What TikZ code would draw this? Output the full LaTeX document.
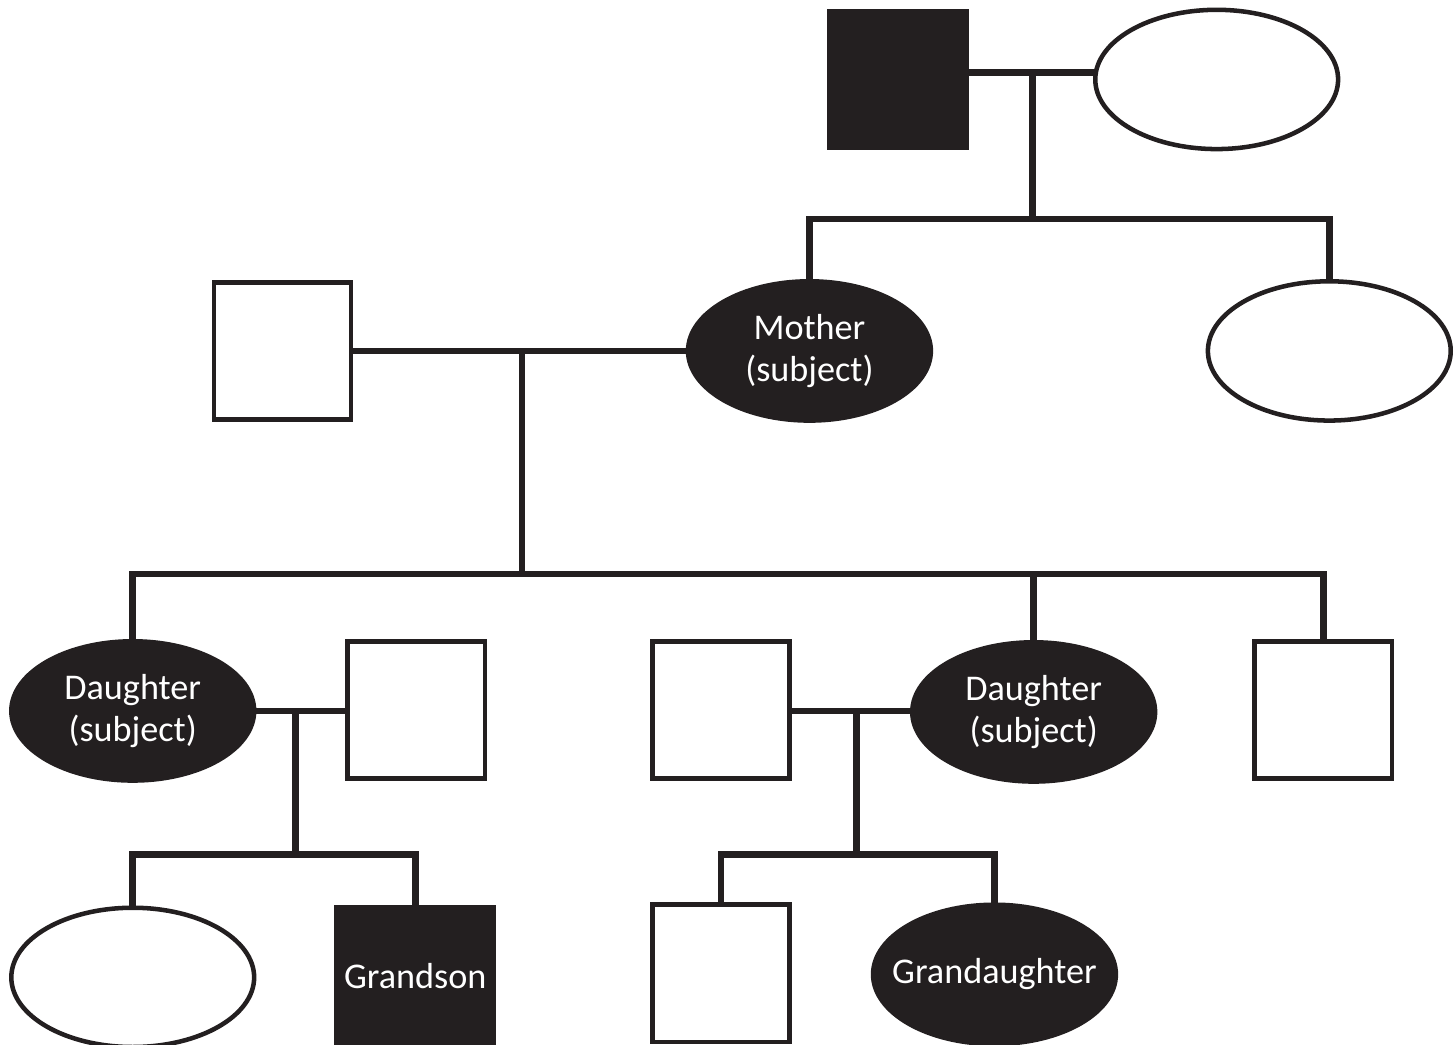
\documentclass[tikz,border=0pt]{standalone}
\usepackage{fontspec}
\setmainfont{Carlito}
\usepackage{tikz}
\usetikzlibrary{shapes.geometric}
\definecolor{ink}{HTML}{231F20}

\begin{document}
\begin{tikzpicture}[
			x=0.5pt, y=-0.5pt,
			every node/.style={font=\fontsize{18}{21}\selectfont, text=white, align=center, inner sep=0pt, outer sep=0pt},
			every label/.style={font=\fontsize{18}{21}\selectfont, text=white},
			male/.style={draw=ink, fill=white, line width=2.25pt, minimum width=68.25pt, minimum height=68.25pt},
			female/.style={ellipse, draw=ink, fill=white, line width=2.25pt, minimum width=120.75pt, minimum height=69.25pt},
			affected/.style={fill=ink},
			link/.style={draw=ink, line width=3.25pt}
			]
			\useasboundingbox (0,0) rectangle (1447,1039);
			
			% Grandparents
			\node[male, affected] (gfather) at (893,79) {};
			\node[female] (gmother) at (1210,79) {};
			
			% Second generation
			\node[female, affected] (mother) at (805,349) {Mother\\(subject)};
			\node[female] (aunt) at (1322,349) {};
			\node[male] (father) at (281,349) {};
			
			% Third generation
			\node[female, affected] (dau1) at (132,707) {Daughter\\(subject)};
			\node[male] (husb1) at (414,706) {};
			\node[male] (husb2) at (717,706) {};
			\node[female, affected] (dau2) at (1028,708) {Daughter\\(subject)};
			\node[male] (son) at (1316,706) {};
			
			% Fourth generation
			\node[female] (gdau1) at (132,972) {};
			\node[male, affected, minimum width=78.25pt] (gson1) at (413,971) {Grandson};
			\node[male] (gson2) at (717,968) {};
			\node[female, affected, label={center:Grandaughter}] (gdau2) at (989,969) {};
			
			% Marriage and sibship points
			\coordinate (mar1) at (1027,72);
			\coordinate (sib1) at (1027,218);
			\coordinate (mar2) at (519,349);
			\coordinate (sib2) at (519,571);
			\coordinate (mar3) at (294,707);
			\coordinate (sib3) at (294,850);
			\coordinate (mar4) at (852,707);
			\coordinate (sib4) at (852,850);
			
			% Lines
			\draw[link] (gfather.east |- mar1) -- (gmother.west |- mar1);
			\draw[link] (mar1) -- (sib1);
			\draw[link] (mother.north) |- (sib1) -| (aunt.north);
			
			\draw[link] (father.east) -- (mother.west);
			\draw[link] (mar2) -- (sib2);
			\draw[link] (dau1.north) |- (sib2) -| (son.north);
			\draw[link] (dau2.north) -- (dau2.north |- sib2);
			
			\draw[link] (dau1.east |- mar3) -- (husb1.west |- mar3);
			\draw[link] (mar3) -- (sib3);
			\draw[link] (gdau1.north) |- (sib3) -| (gson1.north);
			
			\draw[link] (husb2.east |- mar4) -- (dau2.west |- mar4);
			\draw[link] (mar4) -- (sib4);
			\draw[link] (gson2.north) |- (sib4) -| (gdau2.north);
		\end{tikzpicture}
\end{document}
